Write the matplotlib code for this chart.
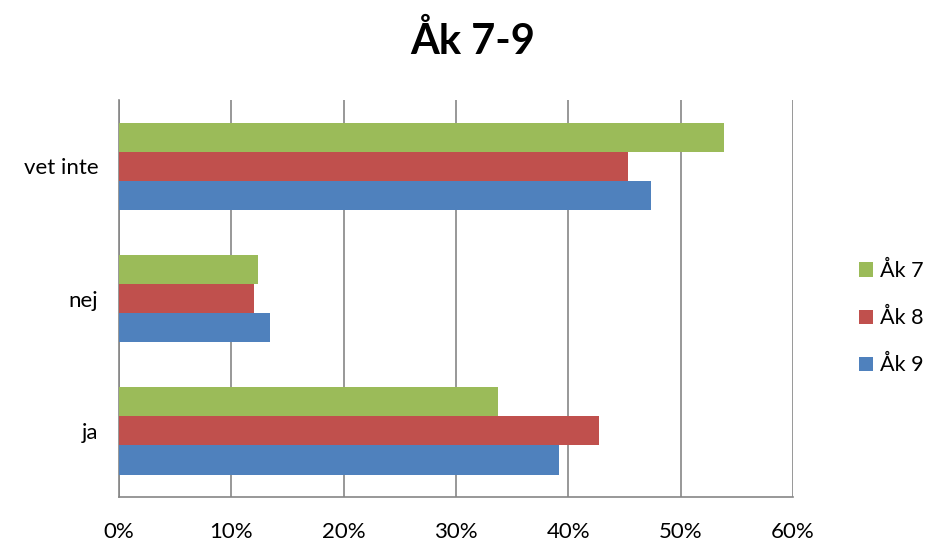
import matplotlib
matplotlib.use("Agg")
import matplotlib.pyplot as plt
import numpy as np

plt.rcParams["font.family"] = ["Lato", "DejaVu Sans"]

categories = ["ja", "nej", "vet inte"]
series_names = ["Åk 7", "Åk 8", "Åk 9"]
ak7 = [33.7, 12.4, 53.9]
ak8 = [42.7, 12.0, 45.3]
ak9 = [39.2, 13.4, 47.4]
x_ticks = [0, 10, 20, 30, 40, 50, 60]
colors = ["#9BBB59", "#C0504D", "#4F81BD"]

fig = plt.figure(figsize=(9.3, 5.43), dpi=100)
ax = fig.add_axes([0.128, 0.0847, 0.7247, 0.7311])

y = np.arange(len(categories))
h = 0.22
offsets = [h, 0.0, -h]
handles = []
for vals, off, col, name in zip([ak7, ak8, ak9], offsets, colors, series_names):
    b = ax.barh(y + off, vals, height=h, color=col, label=name, zorder=3)
    handles.append(b)

ax.set_xlim(0, 60)
ax.set_ylim(-0.5, 2.5)
ax.set_xticks(x_ticks)
ax.set_xticklabels([f"{t}%" for t in x_ticks], fontsize=16)
ax.set_yticks(y)
ax.set_yticklabels(categories, fontsize=16)
ax.tick_params(axis="both", length=0)
ax.tick_params(axis="x", pad=18)
ax.tick_params(axis="y", pad=15)
ax.grid(axis="x", color="#868686", linewidth=1.2, zorder=0)
for s in ["top", "right"]:
    ax.spines[s].set_visible(False)
for s in ["left", "bottom"]:
    ax.spines[s].set_color("#868686")
    ax.spines[s].set_linewidth(1.2)

fig.text(0.508, 0.925, "Åk 7-9", ha="center", va="center",
         fontsize=30, fontweight="bold")

leg = fig.legend(handles=handles, labels=series_names, loc="center left",
                 bbox_to_anchor=(0.914, 0.414), frameon=False, fontsize=15.5,
                 handlelength=0.65, handleheight=0.65, handletextpad=0.35,
                 labelspacing=1.25, borderpad=0.2, borderaxespad=0.2)

fig.savefig("out.png", dpi=100)
